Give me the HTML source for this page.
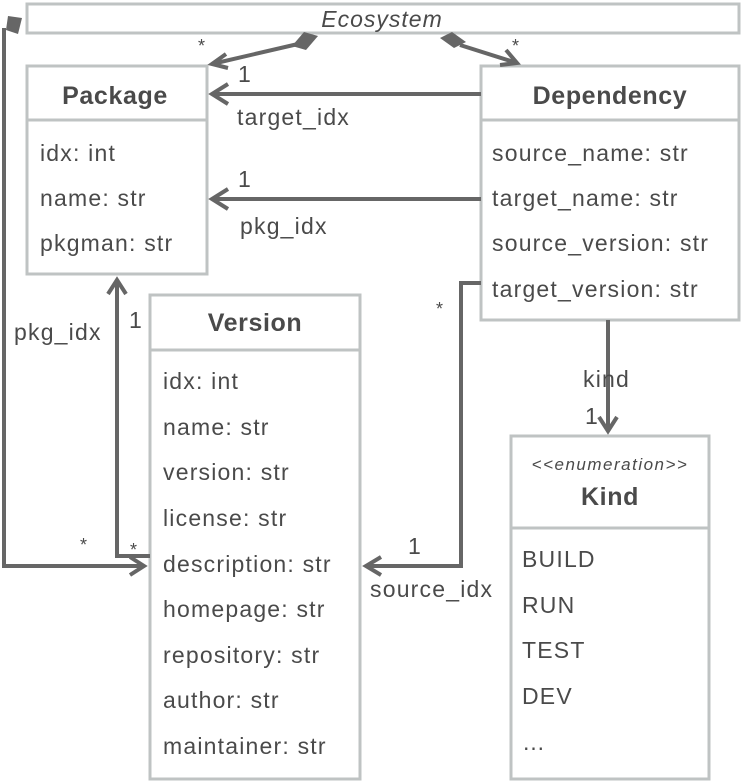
<!DOCTYPE html>
<html><head><meta charset="utf-8"><style>
html,body{margin:0;padding:0;background:#fff;}
svg{display:block;}
text{font-family:"Liberation Sans",sans-serif;fill:#4a4a4a;}
.f{font-size:23px;letter-spacing:1.2px;}
.t{font-size:25px;font-weight:bold;letter-spacing:0.6px;}
.box{fill:#fff;stroke:#bfc3c3;stroke-width:3;}
.ln{fill:none;stroke:#666;stroke-width:4;}
.ar{fill:none;stroke:#666;stroke-width:4;stroke-linejoin:miter;}
</style></head><body>
<svg width="741" height="781" viewBox="0 0 741 781" xmlns="http://www.w3.org/2000/svg">
<rect class="box" x="27" y="4" width="712" height="29"/>
<text x="382" y="27" font-size="23" font-style="italic" letter-spacing="1" text-anchor="middle">Ecosystem</text>

<rect class="box" x="27" y="66" width="180" height="208"/>
<line x1="27" y1="120" x2="207" y2="120" stroke="#bfc3c3" stroke-width="3"/>
<text class="t" x="115" y="104" text-anchor="middle">Package</text>
<text class="f" x="40" y="161">idx: int</text>
<text class="f" x="40" y="206">name: str</text>
<text class="f" x="40" y="251">pkgman: str</text>

<rect class="box" x="481" y="66" width="258" height="254"/>
<line x1="481" y1="120" x2="739" y2="120" stroke="#bfc3c3" stroke-width="3"/>
<text class="t" x="610" y="104" text-anchor="middle">Dependency</text>
<text class="f" x="492" y="161">source_name: str</text>
<text class="f" x="492" y="206">target_name: str</text>
<text class="f" x="492" y="251">source_version: str</text>
<text class="f" x="492" y="297">target_version: str</text>

<rect class="box" x="150" y="295" width="210" height="484"/>
<line x1="150" y1="350" x2="360" y2="350" stroke="#bfc3c3" stroke-width="3"/>
<text class="t" x="255" y="331" text-anchor="middle">Version</text>
<text class="f" x="163" y="389">idx: int</text>
<text class="f" x="163" y="435">name: str</text>
<text class="f" x="163" y="480">version: str</text>
<text class="f" x="163" y="526">license: str</text>
<text class="f" x="163" y="572">description: str</text>
<text class="f" x="163" y="617">homepage: str</text>
<text class="f" x="163" y="663">repository: str</text>
<text class="f" x="163" y="708">author: str</text>
<text class="f" x="163" y="754">maintainer: str</text>

<rect class="box" x="511" y="436" width="198" height="343"/>
<line x1="511" y1="528" x2="709" y2="528" stroke="#bfc3c3" stroke-width="3"/>
<text x="610" y="470" font-size="17" font-style="italic" letter-spacing="1.5" text-anchor="middle">&lt;&lt;enumeration&gt;&gt;</text>
<text class="t" x="610" y="505" text-anchor="middle">Kind</text>
<text class="f" x="522" y="567">BUILD</text>
<text class="f" x="522" y="613">RUN</text>
<text class="f" x="522" y="658">TEST</text>
<text class="f" x="522" y="704">DEV</text>
<text class="f" x="522" y="750">…</text>

<polygon points="318,36 306,50 292,46 304,32" fill="#666"/>
<line class="ln" x1="298" y1="44" x2="212" y2="64"/>
<polyline class="ar" points="226,54 212,64 228,68"/>
<text x="198" y="52" font-size="18">*</text>
<text class="f" x="238" y="82">1</text>

<polygon points="440,38 452,32 466,42 454,48" fill="#666"/>
<line class="ln" x1="460" y1="45" x2="517" y2="63"/>
<polyline class="ar" points="500,65 517,63 506,50"/>
<text x="512" y="52" font-size="18">*</text>

<line class="ln" x1="481" y1="94" x2="212" y2="94"/>
<polyline class="ar" points="228,84 212,94 228,104"/>
<text class="f" x="237" y="125">target_idx</text>

<line class="ln" x1="481" y1="199" x2="212" y2="199"/>
<polyline class="ar" points="228,189 212,199 228,209"/>
<text class="f" x="238" y="187">1</text>
<text class="f" x="240" y="234">pkg_idx</text>

<polygon points="8,16 22,18 18,34 6,30" fill="#666"/>
<polyline class="ln" points="4,28 4,566 144,566"/>
<polyline class="ar" points="130,557 144,566 130,575"/>
<text x="80" y="551" font-size="18">*</text>

<polyline class="ln" points="150,556 117,556 117,280"/>
<polyline class="ar" points="108,294 117,280 126,294"/>
<text class="f" x="14" y="340">pkg_idx</text>
<text class="f" x="129" y="328">1</text>
<text x="130" y="556" font-size="18">*</text>

<polyline class="ln" points="481,283 461,283 461,566 366,566"/>
<polyline class="ar" points="381,557 366,566 381,575"/>
<text x="436" y="315" font-size="18">*</text>
<text class="f" x="408" y="554">1</text>
<text class="f" x="370" y="597">source_idx</text>

<line class="ln" x1="608" y1="320" x2="608" y2="431"/>
<polyline class="ar" points="599,417 608,431 617,417"/>
<text class="f" x="583" y="387">kind</text>
<text class="f" x="585" y="424">1</text>
</svg>
</body></html>
